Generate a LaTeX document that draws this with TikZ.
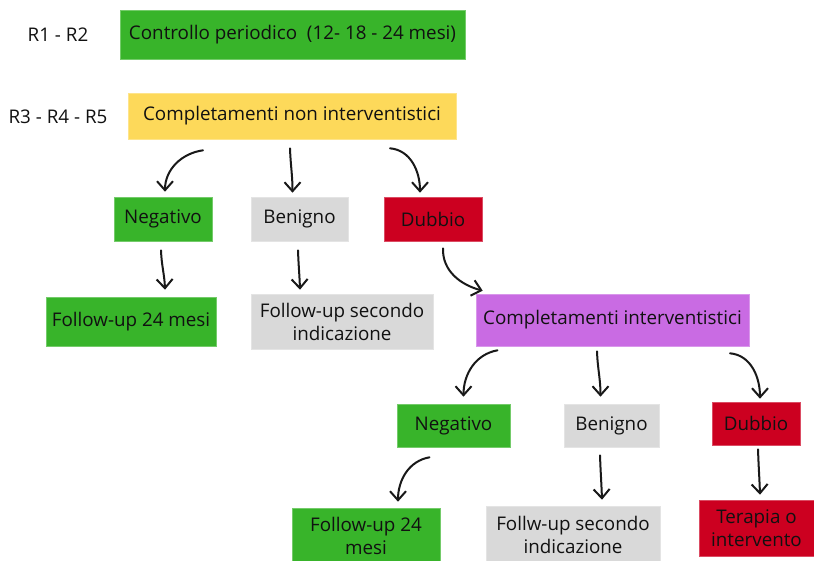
\documentclass[tikz,border=0pt]{standalone}
\usepackage{fontspec}
\setmainfont{Open Sans}
\usetikzlibrary{arrows.meta}
\definecolor{cgreen}{HTML}{38B42A}
\definecolor{cyellow}{HTML}{FDD95A}
\definecolor{cgrey}{HTML}{D9D9D9}
\definecolor{cred}{HTML}{CC0020}
\definecolor{cpurple}{HTML}{C96BE3}
\definecolor{ctext}{HTML}{111111}
\tikzset{
  box/.style={rectangle, inner sep=0pt, align=center, text=ctext,
    font=\fontsize{18.8}{23}\selectfont},
  gbox/.style={box, fill=cgreen, draw=cgreen!70!white, line width=0.6pt},
  ybox/.style={box, fill=cyellow, draw=cyellow!70!white, line width=0.6pt},
  greybox/.style={box, fill=cgrey, draw=cgrey!70!white, line width=0.6pt},
  rbox/.style={box, fill=cred, draw=cred!70!white, line width=0.6pt},
  pbox/.style={box, fill=cpurple, draw=cpurple!70!white, line width=0.6pt},
  lbl/.style={text=ctext, font=\fontsize{18.8}{22}\selectfont},
  arr/.style={-{Straight Barb[length=9pt,width=16pt,line width=2pt]}, line width=2pt, line cap=round, draw=black!90},
}
\begin{document}
\begin{tikzpicture}[x=1pt,y=-1pt]
\useasboundingbox (0,0) rectangle (814,560);
\clip (0,0) rectangle (814,560);
\fill[white] (0,0) rectangle (814,560);

\node[lbl] (l12) at (58,35) {R1 - R2};
\node[lbl] (l345) at (58,117) {R3 - R4 - R5};

\node[gbox, minimum width=345pt, minimum height=49pt] (ctrl) at (292.5,34.5) {Controllo periodico\ \ (12- 18 - 24 mesi)};
\node[ybox, minimum width=328pt, minimum height=46pt] (cni) at (292,116) {Completamenti non interventistici};

\node[gbox, minimum width=98pt, minimum height=44pt] (neg1) at (163,219) {Negativo};
\node[greybox, minimum width=97pt, minimum height=44pt] (ben1) at (299.5,219) {Benigno};
\node[rbox, minimum width=98pt, minimum height=44pt] (dub1) at (433,219) {Dubbio};

\node[gbox, minimum width=170pt, minimum height=49pt] (fu1) at (131,321.5) {Follow-up 24 mesi};
\node[greybox, minimum width=182pt, minimum height=55pt] (fs1) at (342,321.5) {Follow-up secondo\\indicazione};
\node[pbox, minimum width=273pt, minimum height=52pt] (ci) at (612.5,320) {Completamenti interventistici};

\node[gbox, minimum width=113pt, minimum height=43pt] (neg2) at (453.5,425.5) {Negativo};
\node[greybox, minimum width=95pt, minimum height=43pt] (ben2) at (611.5,425.5) {Benigno};
\node[rbox, minimum width=88pt, minimum height=43pt] (dub2) at (756,423.5) {Dubbio};

\node[gbox, minimum width=148pt, minimum height=56pt] (fu2) at (366,536) {Follow-up 24\\mesi};
\node[greybox, minimum width=174pt, minimum height=58pt] (fs2) at (573,535) {Follw-up secondo\\indicazione};
\node[rbox, minimum width=115pt, minimum height=56pt] (ter) at (756.5,528) {Terapia o\\intervento};

% arrows from first yellow box
\draw[arr] ([xshift=-89pt,yshift=-11pt]cni.south) to[out=188,in=90] ([xshift=2pt,yshift=5pt]neg1.north);
\draw[arr] ([xshift=-2pt,yshift=-9pt]cni.south) to[out=-88,in=90] ([xshift=-7pt,yshift=4pt]ben1.north);
\draw[arr] ([xshift=98pt,yshift=-9pt]cni.south) to[out=-5,in=90] ([xshift=-13pt,yshift=4pt]dub1.north);

\draw[arr] ([xshift=-2pt,yshift=-9pt]neg1.south) to[out=-88,in=92] ([xshift=2pt,yshift=7pt]fu1.north -| neg1.south);
\draw[arr] ([xshift=-1.5pt,yshift=-9pt]ben1.south) to[out=-88,in=92] ([xshift=0.5pt,yshift=4pt]fs1.north -| ben1.south);

\draw[arr] ([xshift=10pt,yshift=-7pt]dub1.south) to[out=-92,in=165] ([xshift=7pt,yshift=3pt]ci.north west);

% arrows from purple box
\draw[arr] ([xshift=-115pt,yshift=-4pt]ci.south) to[out=190,in=90] ([xshift=10pt,yshift=7pt]neg2.north);
\draw[arr] ([xshift=-15.5pt,yshift=-5pt]ci.south) to[out=-88,in=90] ([xshift=-11pt,yshift=7pt]ben2.north);
\draw[arr] ([xshift=117.5pt,yshift=-7pt]ci.south) to[out=-5,in=90] ([xshift=4pt,yshift=3pt]dub2.north);

\draw[arr] ([xshift=-24pt,yshift=-10pt]neg2.south) to[out=190,in=90] ([xshift=32pt,yshift=6pt]fu2.north);
\draw[arr] ([xshift=-11.5pt,yshift=-8pt]ben2.south) to[out=-88,in=92] ([xshift=29pt,yshift=6pt]fs2.north);
\draw[arr] ([xshift=2pt,yshift=-4pt]dub2.south) to[out=-88,in=92] ([xshift=3.5pt,yshift=5pt]ter.north);
\end{tikzpicture}
\end{document}
